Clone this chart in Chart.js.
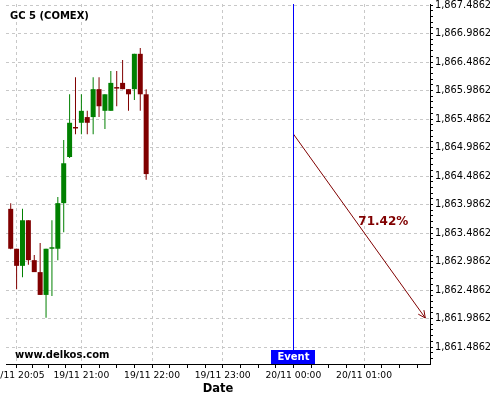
<!DOCTYPE html>
<html>
<head>
<meta charset="utf-8">
<script src="https://cdn.jsdelivr.net/npm/chart.js@4.4.0/dist/chart.umd.min.js"></script>
<style>
  html, body { margin: 0; padding: 0; background: #fff; }
  canvas { display: block; }
</style>
</head>
<body>
<canvas id="chart" width="500" height="400"></canvas>
<script>
const symbol = 'GC 5 (COMEX)';
const site = 'www.delkos.com';

// minutes after 19/11 20:00, one candle every 5 min
const candleTimes = [0, 5, 10, 15, 20, 25, 30, 35, 40, 45, 50, 55,
                     60, 65, 70, 75, 80, 85, 90, 95, 100, 105, 110, 115];
const opens  = [1863.91, 1863.21, 1862.91, 1863.71, 1863.01, 1862.80, 1862.40, 1863.21, 1863.21, 1864.01, 1864.82, 1865.33,
                1865.42, 1865.52, 1865.52, 1866.01, 1865.63, 1865.63, 1866.03, 1866.12, 1866.01, 1866.01, 1866.63, 1865.92];
const highs  = [1864.01, 1863.21, 1863.91, 1863.71, 1863.10, 1863.31, 1863.21, 1863.71, 1864.12, 1865.12, 1865.92, 1866.22,
                1865.92, 1865.63, 1866.22, 1866.22, 1865.92, 1866.33, 1866.33, 1866.52, 1866.01, 1866.63, 1866.73, 1866.01];
const lows   = [1863.20, 1862.50, 1862.71, 1862.93, 1862.80, 1862.40, 1862.00, 1862.38, 1863.01, 1863.50, 1864.80, 1865.22,
                1865.22, 1865.22, 1865.22, 1865.52, 1865.31, 1865.63, 1865.71, 1866.01, 1865.63, 1865.82, 1865.63, 1864.42];
const closes = [1863.21, 1862.91, 1863.71, 1863.01, 1862.80, 1862.40, 1863.21, 1863.22, 1864.01, 1864.71, 1865.42, 1865.32,
                1865.63, 1865.42, 1866.01, 1865.71, 1865.92, 1866.12, 1866.02, 1866.01, 1865.92, 1866.63, 1865.92, 1864.52];

// event and the projected move after it
const eventTime = 240;
const eventLabel = 'Event';
const arrowX = [240, 352];
const arrowY = [1865.223, 1861.995];
const percentLabel = '71.42%';

// axis ticks
const xMajorTicks = [5, 60, 120, 180, 240, 300];
const xTickLabels = ['19/11 20:05', '19/11 21:00', '19/11 22:00', '19/11 23:00', '20/11 00:00', '20/11 01:00'];
const yMajorTicks = [1861.4862, 1861.9862, 1862.4862, 1862.9862, 1863.4862, 1863.9862, 1864.4862,
                     1864.9862, 1865.4862, 1865.9862, 1866.4862, 1866.9862, 1867.4862];

const xMin = -4, xMax = 356;
const yMin = 1861.188, yMax = 1867.504;

const UP = '#008000', DOWN = '#800000';
const FONT = 'DejaVu Sans';

// minor ticks: each major gap split in four
const xTickMarks = [];
xMajorTicks.forEach((v, i) => {
  const next = xMajorTicks[i + 1];
  const step = next !== undefined ? (next - v) / 4 : 15;
  for (let k = 0; k < 4; k++) {
    const t = v + k * step;
    if (t <= xMax) xTickMarks.push(t);
  }
});
const yTickMarks = [];
for (let v = yMajorTicks[0] - 0.3; v <= yMax; v += 0.1) {
  if (v >= yMin) yTickMarks.push(Math.round(v * 10000) / 10000);
}

const isMajor = (list, v) => list.some(m => Math.abs(m - v) < 1e-6);
const candleColors = opens.map((o, i) => closes[i] >= o ? UP : DOWN);

const overlay = {
  id: 'overlay',
  afterDatasetsDraw(chart) {
    const { ctx, chartArea: a, scales: { x } } = chart;
    const ex = Math.round(x.getPixelForValue(eventTime)) + 0.5;
    ctx.save();

    ctx.strokeStyle = '#0000ff';
    ctx.lineWidth = 1;
    ctx.beginPath();
    ctx.moveTo(ex, a.top);
    ctx.lineTo(ex, a.bottom);
    ctx.stroke();

    // arrow head on the projection line
    const pts = chart.getDatasetMeta(2).data;
    const p0 = pts[0], p1 = pts[pts.length - 1];
    const ang = Math.atan2(p1.y - p0.y, p1.x - p0.x);
    ctx.strokeStyle = DOWN;
    ctx.beginPath();
    [-0.45, 0.45].forEach(d => {
      ctx.moveTo(p1.x, p1.y);
      ctx.lineTo(p1.x - 8 * Math.cos(ang + d), p1.y - 8 * Math.sin(ang + d));
    });
    ctx.stroke();

    const mx = (p0.x + p1.x) / 2, my = (p0.y + p1.y) / 2;
    ctx.fillStyle = DOWN;
    ctx.font = `bold 12px "${FONT}"`;
    ctx.textAlign = 'left';
    ctx.textBaseline = 'alphabetic';
    ctx.fillText(percentLabel, mx - 1, my - 1);

    // event tag at the bottom of the plot
    const w = 44, h = 14;
    ctx.fillStyle = '#0000ff';
    ctx.fillRect(ex - 0.5 - w / 2, a.bottom - h, w, h);
    ctx.fillStyle = '#fff';
    ctx.font = `bold 10px "${FONT}"`;
    ctx.textAlign = 'center';
    ctx.textBaseline = 'middle';
    ctx.fillText(eventLabel, ex, a.bottom - h / 2 + 0.5);

    ctx.fillStyle = '#000';
    ctx.textAlign = 'left';
    ctx.textBaseline = 'alphabetic';
    ctx.fillText(symbol, a.left + 4, a.top + 15);
    ctx.fillText(site, a.left + 9, a.bottom - 6);
    ctx.restore();
  }
};

new Chart(document.getElementById('chart'), {
  type: 'bar',
  data: {
    datasets: [
      {
        label: 'body',
        data: candleTimes.map((t, i) => ({ x: t, y: [opens[i], closes[i]] })),
        backgroundColor: candleColors,
        borderWidth: 0,
        barThickness: 5,
        minBarLength: 1.5,
        inflateAmount: 0,
        grouped: false
      },
      {
        label: 'wick',
        data: candleTimes.map((t, i) => ({ x: t, y: [lows[i], highs[i]] })),
        backgroundColor: candleColors,
        borderWidth: 0,
        barThickness: 1,
        inflateAmount: 0,
        grouped: false
      },
      {
        type: 'line',
        label: 'projection',
        data: arrowX.map((v, i) => ({ x: v, y: arrowY[i] })),
        borderColor: DOWN,
        borderWidth: 1,
        pointRadius: 0,
        fill: false
      }
    ]
  },
  options: {
    responsive: false,
    animation: false,
    layout: { padding: { left: 6, top: 4, right: 0, bottom: 0 } },
    plugins: {
      legend: { display: false },
      title: { display: false },
      tooltip: { enabled: false }
    },
    scales: {
      x: {
        type: 'linear',
        min: xMin,
        max: xMax,
        offset: false,
        afterBuildTicks: s => { s.ticks = xTickMarks.map(v => ({ value: v })); },
        afterFit: s => { s.height = 36; s.paddingLeft = 0; s.paddingRight = 0; },
        ticks: {
          autoSkip: false,
          maxRotation: 0,
          padding: 2,
          color: '#000',
          font: { family: FONT, size: 9.2 },
          callback: v => {
            const i = xMajorTicks.findIndex(m => Math.abs(m - v) < 1e-6);
            return i >= 0 ? xTickLabels[i] : '';
          }
        },
        grid: {
          offset: false,
          color: c => c.tick && isMajor(xMajorTicks, c.tick.value) ? '#c8c8c8' : 'transparent',
          tickColor: '#000',
          tickLength: 4,
          lineWidth: 1
        },
        border: { display: true, color: '#000', width: 1, dash: [3, 3] },
        title: {
          display: true,
          text: 'Date',
          color: '#000',
          font: { family: FONT, size: 11.5, weight: 'bold' },
          padding: { top: 0, bottom: 4 }
        }
      },
      y: {
        position: 'right',
        min: yMin,
        max: yMax,
        afterBuildTicks: s => { s.ticks = yTickMarks.map(v => ({ value: v })); },
        afterFit: s => { s.width = 70; s.paddingTop = 0; s.paddingBottom = 0; },
        ticks: {
          autoSkip: false,
          padding: 2,
          color: '#000',
          font: { family: FONT, size: 9.8 },
          callback: v => isMajor(yMajorTicks, v)
            ? v.toLocaleString('en-US', { minimumFractionDigits: 4, maximumFractionDigits: 4 })
            : ''
        },
        grid: {
          color: c => c.tick && isMajor(yMajorTicks, c.tick.value) ? '#c8c8c8' : 'transparent',
          tickColor: '#000',
          tickLength: 3,
          lineWidth: 1
        },
        border: { display: true, color: '#000', width: 1, dash: [3, 3] }
      }
    }
  },
  plugins: [overlay]
});
</script>
</body>
</html>
